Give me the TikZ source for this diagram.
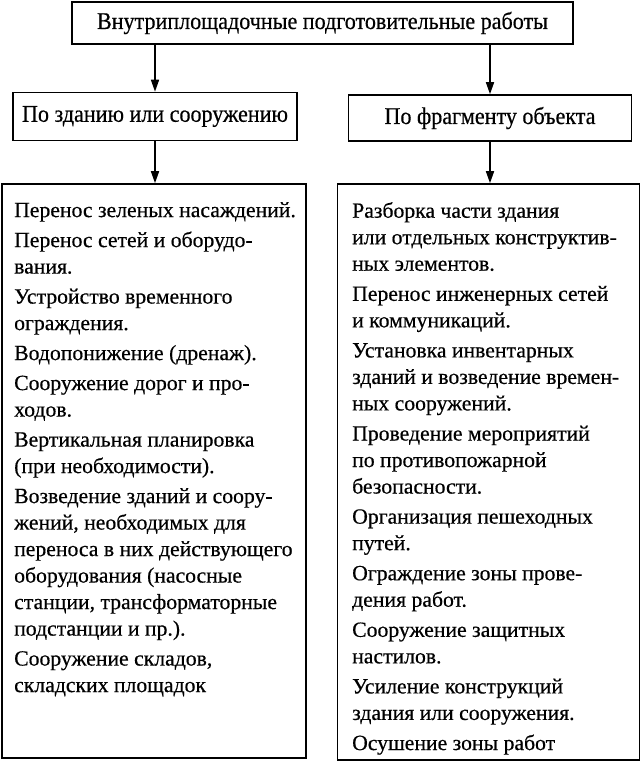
\documentclass[tikz,border=0pt]{standalone}
\usepackage{fontspec}
\setmainfont{Liberation Serif}[FakeBold=0.5]
\newfontfamily\narrowfont[FakeStretch=0.92,FakeBold=0.5]{Liberation Serif}
\usetikzlibrary{arrows.meta}
\tikzset{
  box/.style={draw, line width=1.6pt, inner sep=0pt},
  headtext/.style={font=\narrowfont\fontsize{24}{28}\selectfont},
  bodytext/.style={inner sep=0pt, align=left, anchor=north west,
    font=\fontsize{21.7}{26.5}\selectfont},
  arr/.style={line width=1.6pt, -{Triangle[length=12pt,width=8pt]}}
}
\begin{document}
\begin{tikzpicture}[x=1pt,y=-1pt]
\useasboundingbox (0,0) rectangle (642,767);
\node[box, headtext, minimum width=501pt, minimum height=42pt] (top) at (322.5,23) {Внутриплощадочные подготовительные работы};
\node[box, headtext, minimum width=284pt, minimum height=48pt] (L) at (155,116.5) {По зданию или сооружению};
\node[box, headtext, minimum width=283pt, minimum height=46pt] (R) at (490,118) {По фрагменту объекта};
\node[box, minimum width=304pt, minimum height=574pt] (BL) at (154,471) {};
\node[box, minimum width=302pt, minimum height=576pt] (BR) at (488.5,472) {};
\node[bodytext] (BLt) at (14,202) {Перенос зеленых насаждений.\\[3.5pt]
Перенос сетей и оборудо-\\вания.\\[3.5pt]
Устройство временного\\ограждения.\\[3.5pt]
Водопонижение (дренаж).\\[3.5pt]
Сооружение дорог и про-\\ходов.\\[3.5pt]
Вертикальная планировка\\(при необходимости).\\[3.5pt]
Возведение зданий и соору-\\жений, необходимых для\\переноса в них действующего\\оборудования (насосные\\станции, трансформаторные\\подстанции и пр.).\\[3.5pt]
Сооружение складов,\\складских площадок};
\node[bodytext] (BRt) at (352,202) {Разборка части здания\\или отдельных конструктив-\\ных элементов.\\[3.6pt]
Перенос инженерных сетей\\и коммуникаций.\\[3.6pt]
Установка инвентарных\\зданий и возведение времен-\\ных сооружений.\\[3.6pt]
Проведение мероприятий\\по противопожарной\\безопасности.\\[3.6pt]
Организация пешеходных\\путей.\\[3.6pt]
Ограждение зоны прове-\\дения работ.\\[3.6pt]
Сооружение защитных\\настилов.\\[3.6pt]
Усиление конструкций\\здания или сооружения.\\[3.6pt]
Осушение зоны работ};
\draw[arr] (top.south -| L.north) -- (L.north);
\draw[arr] (top.south -| R.north) -- (R.north);
\draw[arr] (L.south) -- (BL.north -| L.south);
\draw[arr] (R.south) -- (BR.north -| R.south);
\end{tikzpicture}
\end{document}
